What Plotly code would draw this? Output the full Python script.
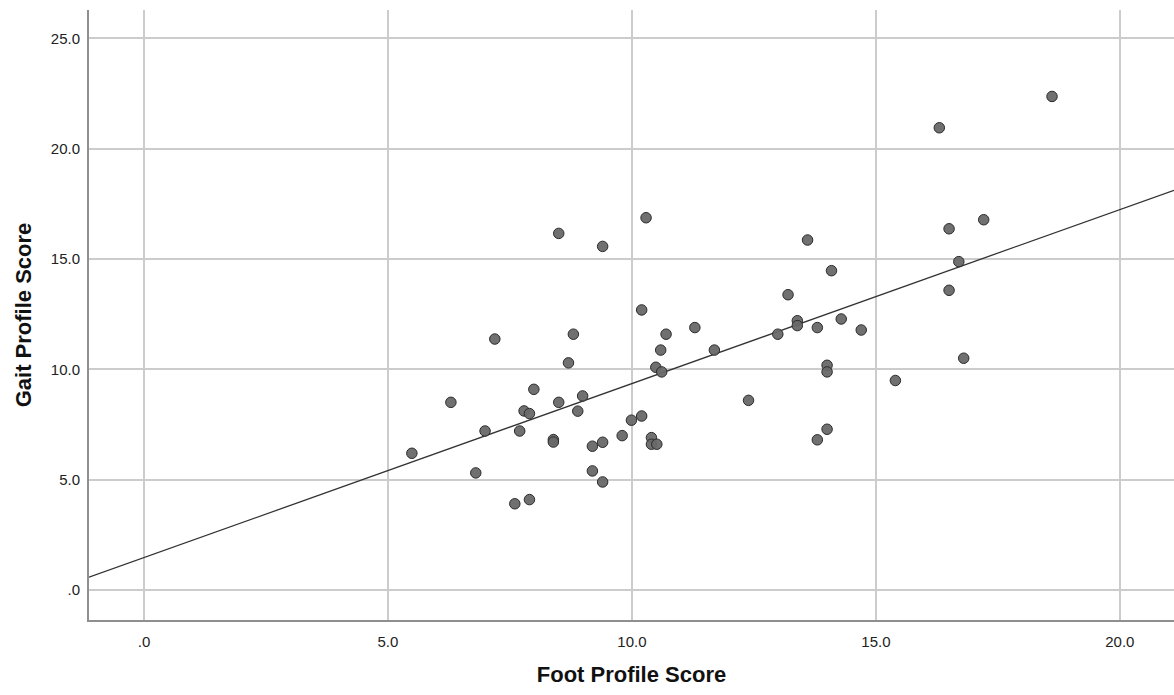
import numpy as np
import plotly.graph_objects as go

foot_profile_score = [
    10.29, 8.50, 9.40, 10.20, 11.29, 7.19, 8.80, 10.70, 10.59, 11.69,
    12.99, 8.70, 10.49, 10.61, 7.99, 6.29, 8.50, 8.99, 7.79, 7.90,
    8.89, 12.39, 10.20, 9.99, 6.99, 7.70, 9.80, 8.39, 8.39, 9.40,
    9.19, 10.40, 10.40, 10.51, 5.49, 6.80, 9.19, 9.40, 7.60, 7.90,
    18.61, 16.30, 17.21, 16.50, 13.60, 16.70, 14.09, 16.50, 13.20, 14.29,
    13.39, 13.39, 13.80, 14.70, 16.80, 14.00, 14.00, 15.40, 14.00, 13.80,
]
gait_profile_score = [
    16.87, 16.16, 15.57, 12.69, 11.89, 11.37, 11.59, 11.59, 10.87, 10.87,
    11.59, 10.29, 10.09, 9.88, 9.09, 8.50, 8.50, 8.79, 8.11, 7.99,
    8.10, 8.59, 7.88, 7.69, 7.20, 7.20, 6.99, 6.81, 6.70, 6.69,
    6.51, 6.90, 6.60, 6.60, 6.19, 5.30, 5.39, 4.89, 3.90, 4.09,
    22.37, 20.95, 16.78, 16.37, 15.86, 14.88, 14.47, 13.58, 13.38, 12.28,
    12.20, 11.98, 11.89, 11.78, 10.50, 10.18, 9.88, 9.49, 7.28, 6.80,
]

x_tick_values = [0, 5, 10, 15, 20]
x_tick_labels = [".0", "5.0", "10.0", "15.0", "20.0"]
y_tick_values = [0, 5, 10, 15, 20, 25]
y_tick_labels = [".0", "5.0", "10.0", "15.0", "20.0", "25.0"]

x_range = [-1.127, 21.11]
y_range = [-1.37, 26.29]

# Regression line as shown on the chart (intercept and slope)
fit_intercept = 1.46
fit_slope = 0.789
line_x = np.array(x_range)
line_y = fit_intercept + fit_slope * line_x

FONT = "Liberation Sans, Arial, sans-serif"

fig = go.Figure()
fig.add_trace(go.Scatter(
    x=line_x, y=line_y, mode="lines",
    line=dict(color="#333333", width=1.3),
    hoverinfo="skip", showlegend=False,
))
fig.add_trace(go.Scatter(
    x=foot_profile_score, y=gait_profile_score, mode="markers",
    marker=dict(size=10.5, color="rgba(104,104,104,0.95)",
                line=dict(color="#2b2b2b", width=1)),
    showlegend=False,
))

fig.update_layout(
    width=1174, height=695,
    margin=dict(l=89, r=0, t=10, b=75),
    plot_bgcolor="white", paper_bgcolor="white",
    font=dict(family=FONT, size=15, color="#222222"),
)
fig.update_xaxes(
    range=x_range, tickvals=x_tick_values, ticktext=x_tick_labels,
    showgrid=True, gridcolor="#cccccc", gridwidth=1.5,
    showline=True, linecolor="#8f8f8f", linewidth=2,
    zeroline=False, ticks="", ticklabelstandoff=7,
    tickfont=dict(size=15, color="#222222"),
    title=dict(text="<b>Foot Profile Score</b>", font=dict(size=22, color="#111111"), standoff=18),
)
fig.update_yaxes(
    range=y_range, tickvals=y_tick_values, ticktext=y_tick_labels,
    showgrid=True, gridcolor="#cccccc", gridwidth=1.5,
    showline=True, linecolor="#8f8f8f", linewidth=2,
    zeroline=False, ticks="", ticklabelstandoff=4,
    tickfont=dict(size=15, color="#222222"),
    title=dict(text="<b>Gait Profile Score</b>", font=dict(size=22, color="#111111"), standoff=13),
)

fig.write_html(
    "out.html",
    config={"displayModeBar": False},
    post_script="document.body.style.margin='0';document.body.style.overflow='hidden';",
)
